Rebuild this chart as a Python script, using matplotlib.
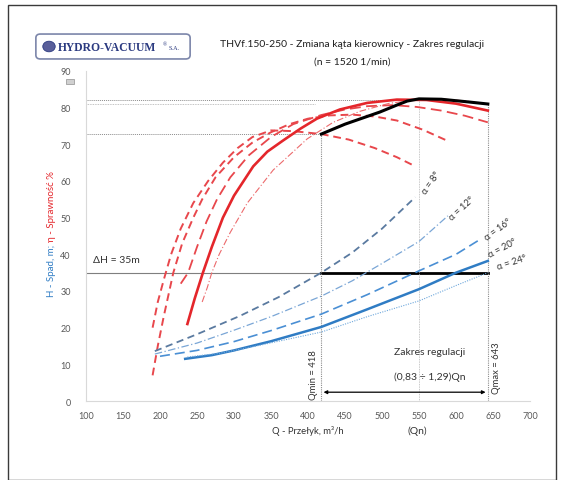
import matplotlib
matplotlib.use("Agg")
import matplotlib.pyplot as plt
from matplotlib.patches import FancyBboxPatch, Rectangle, Circle

plt.rcParams['font.family'] = ['Lato', 'DejaVu Sans']

# --- data ---
q_ticks = list(range(100, 701, 50))
h_ticks = list(range(0, 91, 10))

# efficiency curves (eta, %)
q_eta8 = [190, 197, 205, 215, 228, 245, 265, 285, 305, 325, 350, 380, 418, 455, 490, 520, 545]
eta8 = [20, 27, 33, 40, 47, 54, 60, 65, 69, 72, 73.8, 73.6, 72.8, 71.3, 69, 66.5, 64]
q_eta12 = [190, 197, 205, 218, 230, 245, 257, 275, 300, 325, 350, 375, 400, 430, 460, 490, 520, 555, 588]
eta12 = [7, 15, 23, 35, 43, 50, 55, 61, 66.5, 70.5, 73.3, 75.5, 77, 77.9, 78.1, 77.6, 76.5, 74, 71]
q_eta16 = [228, 238, 250, 263, 277, 295, 320, 350, 380, 418, 450, 480, 515, 547, 580, 612, 643]
eta16 = [32, 35, 42, 49, 55, 61, 67, 72, 75.5, 78, 79.5, 80.4, 80.7, 80.2, 79.2, 77.8, 76]
q_eta20 = [237, 247, 258, 270, 285, 300, 326, 345, 366, 390, 412, 443, 480, 520, 560, 600, 643]
eta20 = [21, 28, 35, 42, 50, 56, 64, 68, 71, 74.3, 77, 79.5, 81.3, 82.2, 82.1, 81.1, 79.2]
q_eta24 = [257, 264, 270, 280, 295, 318, 353, 399, 434, 470, 510, 550, 585, 615, 643]
eta24 = [27, 31, 35, 40, 46, 54, 63, 71.5, 76, 79, 81.2, 82.2, 82.3, 81.8, 80.8]

# efficiency along the regulation range
q_env = [418, 450, 497, 520, 534, 550, 580, 615, 643]
eta_env = [72.8, 75.5, 78.8, 80.7, 81.8, 82.4, 82.3, 81.6, 81]

# head curves (H, m)
q_h8 = [193, 250, 308, 360, 418, 460, 500, 545]
h8 = [13.6, 18.2, 23.2, 28.3, 35, 40.5, 47, 55.6]
q_h12 = [193, 250, 300, 350, 418, 460, 500, 550, 589]
h12 = [12.8, 15.8, 19.3, 23, 28.6, 32.8, 37.5, 43.5, 50.5]
q_h16 = [200, 250, 300, 350, 418, 480, 550, 600, 632]
h16 = [12.2, 13.8, 16.2, 19.2, 23.7, 29, 35.5, 40, 44]
q_h20 = [234, 270, 300, 350, 418, 480, 550, 600, 643]
h20 = [11.5, 12.5, 13.8, 16.3, 20.2, 25, 30.5, 35, 38.2]
q_h24 = [237, 280, 330, 418, 480, 550, 600, 643]
h24 = [12, 13, 15, 18.8, 23, 27.3, 31.5, 35]

q_min, q_n, q_max = 418, 550, 643
h_req = 35
eta_lines = [82.2, 81.0]

alpha_labels = ['α = 8°', 'α = 12°', 'α = 16°', 'α = 20°', 'α = 24°']
alpha_pos = [(566, 59.6), (608, 52.6), (657, 47.0), (663, 41.8), (675, 38.0)]
alpha_rot = [55, 42, 36, 28, 18]

# --- figure ---
fig = plt.figure(figsize=(5.64, 4.81), dpi=100)
fig.patch.set_facecolor('white')
fig.add_artist(Rectangle((8 / 564, 0), 548 / 564, 475 / 481, transform=fig.transFigure,
                         fill=False, edgecolor='#3a3a3a', linewidth=1.0))

ax = fig.add_axes([86 / 564, 1 - 402 / 481, 444 / 564, 330 / 481])
ax.set_xlim(100, 700)
ax.set_ylim(0, 90)
ax.set_xticks(q_ticks)
ax.set_yticks(h_ticks)
ax.tick_params(length=0, labelsize=6.5, labelcolor='#595959')
ax.tick_params(axis='y', pad=11)
ax.tick_params(axis='x', pad=7)
for s in ['top', 'right']:
    ax.spines[s].set_visible(False)
for s in ['left', 'bottom']:
    ax.spines[s].set_color('#d9d9d9')
    ax.spines[s].set_linewidth(0.8)

# reference lines
grey = '#8c8c8c'
ax.plot([100, q_min], [h_req, h_req], color='#7f7f7f', lw=0.8)
ax.plot([q_min, q_max], [h_req, h_req], color='black', lw=2)
ax.plot([100, q_min], [eta_env[0], eta_env[0]], color=grey, lw=0.7, ls=(0, (1, 1)))
ax.plot([100, 555], [eta_lines[0], eta_lines[0]], color=grey, lw=0.7, ls=(0, (1, 1)))
ax.plot([100, 410], [eta_lines[1], eta_lines[1]], color='#b0b0b0', lw=0.6, ls=(0, (1, 1)))
ax.plot([q_min, q_min], [0, eta_env[0]], color=grey, lw=0.8, ls=(0, (1, 1)))
ax.plot([q_n, q_n], [0, eta_lines[0]], color='#b5b5b5', lw=0.6, ls=(0, (1, 1)))
ax.plot([q_max, q_max], [0, eta_env[-1]], color=grey, lw=0.8, ls=(0, (1, 1)))

# efficiency curves
red = '#e4262b'
ax.plot(q_eta8, eta8, color='#e8474c', lw=1.4, ls=(0, (4, 2.5)))
ax.plot(q_eta12, eta12, color='#e8474c', lw=1.4, ls=(0, (4, 2.5)))
ax.plot(q_eta16, eta16, color='#e8474c', lw=1.3, ls=(0, (6, 3)))
ax.plot(q_eta20, eta20, color=red, lw=1.9)
ax.plot(q_eta24, eta24, color='#ec6a6c', lw=0.8, ls=(0, (6, 2, 1, 2)))
ax.plot(q_env, eta_env, color='black', lw=2.2)

# head curves
ax.plot(q_h8, h8, color='#5a7aa0', lw=1.3, ls=(0, (4, 2.5)))
ax.plot(q_h12, h12, color='#7aa6d6', lw=0.9, ls=(0, (6, 2, 1, 2)))
ax.plot(q_h16, h16, color='#4a8fd4', lw=1.2, ls=(0, (6, 3)))
ax.plot(q_h20, h20, color='#2f7cc4', lw=1.8)
ax.plot(q_h24, h24, color='#6fa8dc', lw=0.8, ls=(0, (1, 1.2)))

for lab, (qx, hy), rot in zip(alpha_labels, alpha_pos, alpha_rot):
    ax.text(qx, hy, lab, rotation=rot, ha='center', va='center', fontsize=6.8,
            color='#333333', rotation_mode='anchor')

# annotations
ax.text(109, 38.7, 'ΔH = 35m', fontsize=7.5, color='#333333', ha='left', va='center')
ax.text(565, 13.6, 'Zakres regulacji', fontsize=7.5, color='#333333', ha='center', va='center')
ax.text(565, 6.8, '(0,83 ÷ 1,29)Qn', fontsize=7.5, color='#333333', ha='center', va='center')
ax.annotate('', xy=(q_max - 3, 2.4), xytext=(q_min + 3, 2.4),
            arrowprops=dict(arrowstyle='<|-|>', color='black', lw=0.9,
                            mutation_scale=5, shrinkA=0, shrinkB=0))
ax.text(q_min - 5, 7.4, 'Qmin = 418', rotation=90, fontsize=6.8, color='#333333',
        ha='right', va='center')
ax.text(q_max + 5, 9.3, 'Qmax = 643', rotation=90, fontsize=6.8, color='#333333',
        ha='left', va='center')

ax.set_xlabel('Q - Przełyk, m³/h', fontsize=6.8, color='#333333', labelpad=4)
fig.text(417 / 564, 1 - 431 / 481, '(Qn)', fontsize=7.5, color='#333333', ha='center', va='center')

# y label in two colours
fig.text(52 / 564, 1 - 242 / 481, 'η - Sprawność %', rotation=90, fontsize=7,
         color='#e4262b', ha='center', va='bottom')
fig.text(52 / 564, 1 - 245 / 481, 'H - Spad, m;', rotation=90, fontsize=7,
         color='#2f7cc4', ha='center', va='top')

# titles
fig.text(352 / 564, 1 - 45 / 481, 'THVf.150-250 - Zmiana kąta kierownicy - Zakres regulacji',
         fontsize=7.5, color='#1f1f1f', ha='center', va='center')
fig.text(352 / 564, 1 - 62 / 481, '(n = 1520 1/min)', fontsize=7.5, color='#1f1f1f',
         ha='center', va='center')

# logo
fig.add_artist(FancyBboxPatch((37 / 564, 1 - 59 / 481), 152 / 564, 23 / 481,
                              boxstyle='round,pad=0.002,rounding_size=0.008',
                              transform=fig.transFigure, facecolor='white',
                              edgecolor='#7c86aa', linewidth=1.2))
fig.add_artist(Circle((49 / 564, 1 - 47.5 / 481), 0.011, transform=fig.transFigure,
                      facecolor='#5a5f9a', edgecolor='#2b3a80', lw=0.6))
fig.text(58 / 564, 1 - 48 / 481, 'HYDRO-VACUUM', fontsize=8.4, fontweight='bold',
         family=['Liberation Serif', 'DejaVu Serif'], color='#2b3a80', ha='left', va='center')
fig.text(163 / 564, 1 - 45 / 481, '®', fontsize=4, family=['Liberation Serif', 'DejaVu Serif'],
         color='#2b3a80', ha='left', va='center')
fig.text(169 / 564, 1 - 49 / 481, 'S.A.', fontsize=4.5, family=['Liberation Serif', 'DejaVu Serif'],
         color='#2b3a80', ha='left', va='center')
fig.add_artist(Rectangle((66 / 564, 1 - 85 / 481), 8 / 564, 5 / 481, transform=fig.transFigure,
                         facecolor='#d0d0d0', edgecolor='#909090', lw=0.5))

fig.savefig('out.png', dpi=100)
